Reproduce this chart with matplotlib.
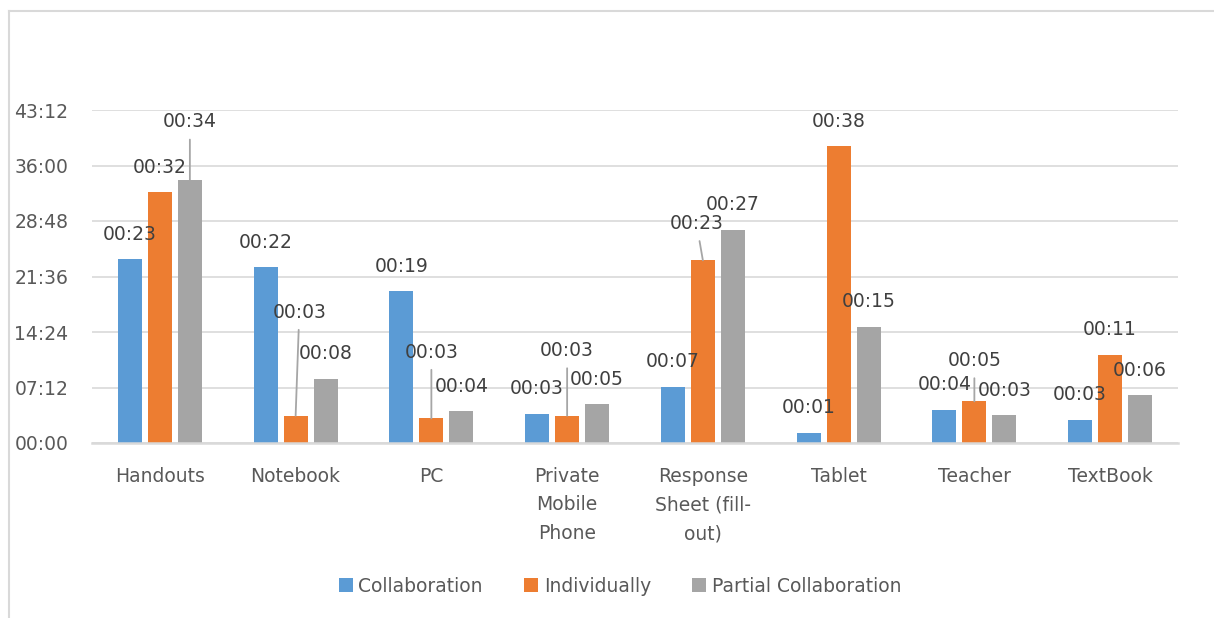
import matplotlib
matplotlib.use("Agg")
import matplotlib.pyplot as plt
import numpy as np
from matplotlib.lines import Line2D
from matplotlib.ticker import FuncFormatter, MultipleLocator

# data (times in minutes)
categories = ["Handouts", "Notebook", "PC", "Private\nMobile\nPhone",
              "Response\nSheet (fill-\nout)", "Tablet", "Teacher", "TextBook"]
series_names = ["Collaboration", "Individually", "Partial Collaboration"]
collaboration = [23.87, 22.8, 19.7, 3.8, 7.3, 1.34, 4.3, 3.02]
individually = [32.5, 3.54, 3.19, 3.54, 23.7, 38.47, 5.4, 11.45]
partial = [34.06, 8.34, 4.1, 5.05, 27.67, 15.05, 3.6, 6.2]

colors = ["#5B9BD5", "#ED7D31", "#A5A5A5"]

# labels that were dragged in the original (series, category): (dx, dy) in px
moved_labels = {
    (2, 0): (0, 58.7),
    (1, 1): (3.7, 103.7),
    (1, 2): (0, 66.4),
    (1, 3): (0, 65.3),
    (1, 4): (-6.4, 37),
    (1, 6): (0, 41),
}
PX = 0.72  # px -> pt at 100 dpi


def axis_fmt(v, pos):
    s = int(round(v * 60))
    return "%02d:%02d" % (s // 60, s % 60)


def label_fmt(v):
    # h:mm, seconds truncated like Excel
    m = int(v)
    return "%02d:%02d" % (m // 60, m % 60)


fig = plt.figure(figsize=(12.14, 6.18), dpi=100)
ax = fig.add_axes([92 / 1214, 1 - 443 / 618, 1086 / 1214, 333 / 618])

x = np.arange(len(categories))
width = 0.177
step = 0.221
data = [collaboration, individually, partial]

for i, vals in enumerate(data):
    bars = ax.bar(x + (i - 1) * step, vals, width, color=colors[i],
                  label=series_names[i], zorder=2)
    for j, b in enumerate(bars):
        v = vals[j]
        bx = b.get_x() + b.get_width() / 2
        if (i, j) in moved_labels:
            dx, dy = moved_labels[(i, j)]
            ax.annotate(label_fmt(v), xy=(bx, v), xytext=(dx * PX, dy * PX),
                        textcoords="offset points", ha="center", va="center",
                        fontsize=13.5, color="#404040", zorder=4,
                        arrowprops=dict(arrowstyle="-", color="#a6a6a6", lw=1.3,
                                        shrinkA=4, shrinkB=0))
        else:
            ax.annotate(label_fmt(v), xy=(bx, v), xytext=(0, 25 * PX),
                        textcoords="offset points", ha="center", va="center",
                        fontsize=13.5, color="#404040", zorder=4)

ax.set_xlim(-0.5, len(categories) - 0.5)
ax.set_ylim(0, 43.2)
ax.yaxis.set_major_locator(MultipleLocator(7.2))
ax.yaxis.set_major_formatter(FuncFormatter(axis_fmt))
ax.yaxis.grid(True, color="#d9d9d9", lw=1.2)
ax.set_axisbelow(True)

for s in ["top", "right", "left"]:
    ax.spines[s].set_visible(False)
ax.spines["bottom"].set_color("#d9d9d9")
ax.spines["bottom"].set_linewidth(1.8)

ax.set_xticks(x)
ax.set_xticklabels(categories, linespacing=1.65)
ax.tick_params(axis="x", length=0, pad=17, labelsize=13.5, labelcolor="#595959")
ax.tick_params(axis="y", length=0, pad=17, labelsize=13.5, labelcolor="#595959")

handles, labels = ax.get_legend_handles_labels()
fig.legend(handles, labels, loc="center", bbox_to_anchor=(620 / 1214, 1 - 586 / 618),
           ncol=3, frameon=False, fontsize=13.5, handlelength=0.75, handleheight=0.75,
           handletextpad=0.3, columnspacing=2.2, labelcolor="#595959")

# outer chart border (top and left only visible)
fig.add_artist(Line2D([9 / 1214, 1], [1 - 11 / 618, 1 - 11 / 618], color="#d9d9d9", lw=1.5))
fig.add_artist(Line2D([9 / 1214, 9 / 1214], [0, 1 - 11 / 618], color="#d9d9d9", lw=1.5))

fig.savefig("out.png", dpi=100)
